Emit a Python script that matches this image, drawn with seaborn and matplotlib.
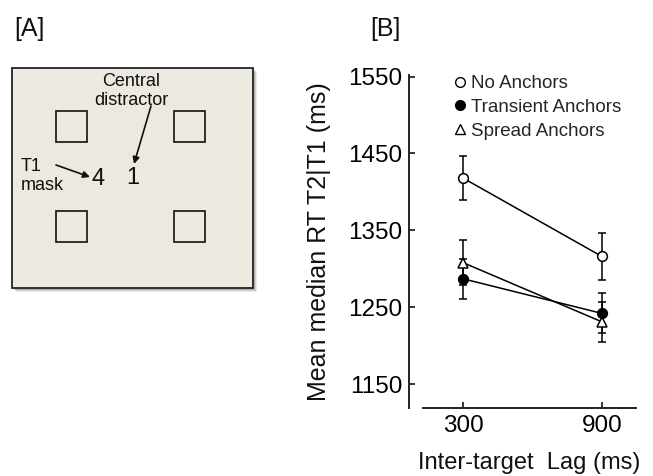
import matplotlib
matplotlib.use("Agg")
import matplotlib.pyplot as plt
import seaborn as sns
import pandas as pd
import numpy as np
from matplotlib.patches import Rectangle, FancyArrowPatch
from matplotlib.lines import Line2D

sns.set_theme(style="ticks")
plt.rcParams['font.family'] = ['Liberation Sans', 'DejaVu Sans']

# ---- data ----
lags = [300, 900]
conditions = ["No Anchors", "Transient Anchors", "Spread Anchors"]
no_anchors = [1418, 1316]
transient_anchors = [1287, 1242]
spread_anchors = [1308, 1231]
no_anchors_err = [29, 30]
transient_anchors_err = [26, 26]
spread_anchors_err = [29, 26]
y_ticks = [1150, 1250, 1350, 1450, 1550]
x_ticks = [300, 900]

rows = []
for cond, vals, errs in zip(conditions,
                            [no_anchors, transient_anchors, spread_anchors],
                            [no_anchors_err, transient_anchors_err, spread_anchors_err]):
    for lag, v, e in zip(lags, vals, errs):
        rows.append({"lag": lag, "rt": v, "err": e, "cond": cond})
df = pd.DataFrame(rows)

W, H = 653, 476
fig = plt.figure(figsize=(W / 100, H / 100), dpi=100)

# ---- panel A (schematic) ----
axA = fig.add_axes([0, 0, 1, 1])
axA.set_xlim(0, W)
axA.set_ylim(H, 0)
axA.axis("off")
# soft shadow
for i, a in enumerate([0.12, 0.18, 0.25]):
    off = 4 - i
    axA.add_patch(Rectangle((12 + off, 68 + off), 241, 220, facecolor="#555555",
                            edgecolor="none", alpha=a, zorder=1))
axA.add_patch(Rectangle((12, 68), 241, 220, facecolor="#ECE9E0", edgecolor="#222222", lw=1.3, zorder=2))
for (sx, sy) in [(56, 111), (174, 111), (56, 211), (174, 211)]:
    axA.add_patch(Rectangle((sx, sy), 31, 31, facecolor="none", edgecolor="#111111", lw=1.2, zorder=3))
axA.text(131, 91, "Central\ndistractor", ha="center", va="center", fontsize=13,
         linespacing=1.1, color="#111111", zorder=4)
axA.text(98, 179, "4", ha="center", va="center", fontsize=17, color="#111111", zorder=4)
axA.text(133, 178, "1", ha="center", va="center", fontsize=17, color="#111111", zorder=4)
axA.text(21, 176, "T1\nmask", ha="left", va="center", fontsize=13,
         linespacing=1.1, color="#111111", zorder=4)
axA.add_patch(FancyArrowPatch((56, 165), (90, 177), arrowstyle="-|>", mutation_scale=10,
                              color="#111111", lw=1.2, zorder=4, shrinkA=0, shrinkB=0))
axA.add_patch(FancyArrowPatch((151, 106), (134, 164), arrowstyle="-|>", mutation_scale=10,
                              color="#111111", lw=1.2, zorder=4, shrinkA=0, shrinkB=0))
axA.text(14, 29, "[A]", ha="left", va="center", fontsize=18, color="#111111")
axA.text(370, 29, "[B]", ha="left", va="center", fontsize=18, color="#111111")

# ---- panel B ----
ax = fig.add_axes([423 / W, 1 - 408 / H, (636 - 423) / W, (408 - 75) / H])
styles = {
    "No Anchors": dict(marker="o", mfc="white", ms=7),
    "Transient Anchors": dict(marker="o", mfc="black", ms=7),
    "Spread Anchors": dict(marker="^", mfc="white", ms=7.5),
}
for cond in conditions:
    sub = df[df["cond"] == cond]
    ax.errorbar(sub["lag"], sub["rt"], yerr=sub["err"], fmt="none", ecolor="black",
                elinewidth=1.1, capsize=3, capthick=1.1, zorder=2)
sns.lineplot(data=df, x="lag", y="rt", hue="cond", style="cond",
             hue_order=conditions, style_order=conditions,
             palette=["black"] * 3, dashes=False, markers=["o", "o", "^"],
             ax=ax, legend=False, lw=1.1, zorder=3)
data_lines = [l for l in ax.get_lines() if len(l.get_xdata()) == 2]
for line, cond in zip(data_lines[-3:], conditions):
    line.set_markerfacecolor(styles[cond]["mfc"])
    line.set_markeredgecolor("black")
    line.set_markersize(styles[cond]["ms"])
    line.set_markeredgewidth(1.1)

handles = [Line2D([], [], ls="none", marker=styles[c]["marker"], mfc=styles[c]["mfc"],
                  mec="black", mew=1.0, ms=7) for c in conditions]
ax.legend(handles, conditions, loc="upper left", bbox_to_anchor=(0.14, 1.0), frameon=False,
          fontsize=13.5, handletextpad=0.15, handlelength=0.8, labelspacing=0.35,
          borderaxespad=0, borderpad=0)

ax.set_xlim(127, 1047)
ax.set_ylim(1119, 1552)
ax.set_xticks(x_ticks)
ax.set_yticks(y_ticks)
ax.tick_params(direction="in", length=4, width=1.1, labelsize=17.5, colors="black", pad=5)
for s in ["top", "right"]:
    ax.spines[s].set_visible(False)
for s in ["left", "bottom"]:
    ax.spines[s].set_linewidth(1.4)
    ax.spines[s].set_color("#222222")
ax.spines["left"].set_position(("outward", 10))
ax.set_xlabel("Inter-target  Lag (ms)", fontsize=17, labelpad=11, color="#111111")
ax.set_ylabel("Mean median RT T2|T1 (ms)", fontsize=18, labelpad=12, color="#111111")

fig.savefig("out.png", dpi=100)
